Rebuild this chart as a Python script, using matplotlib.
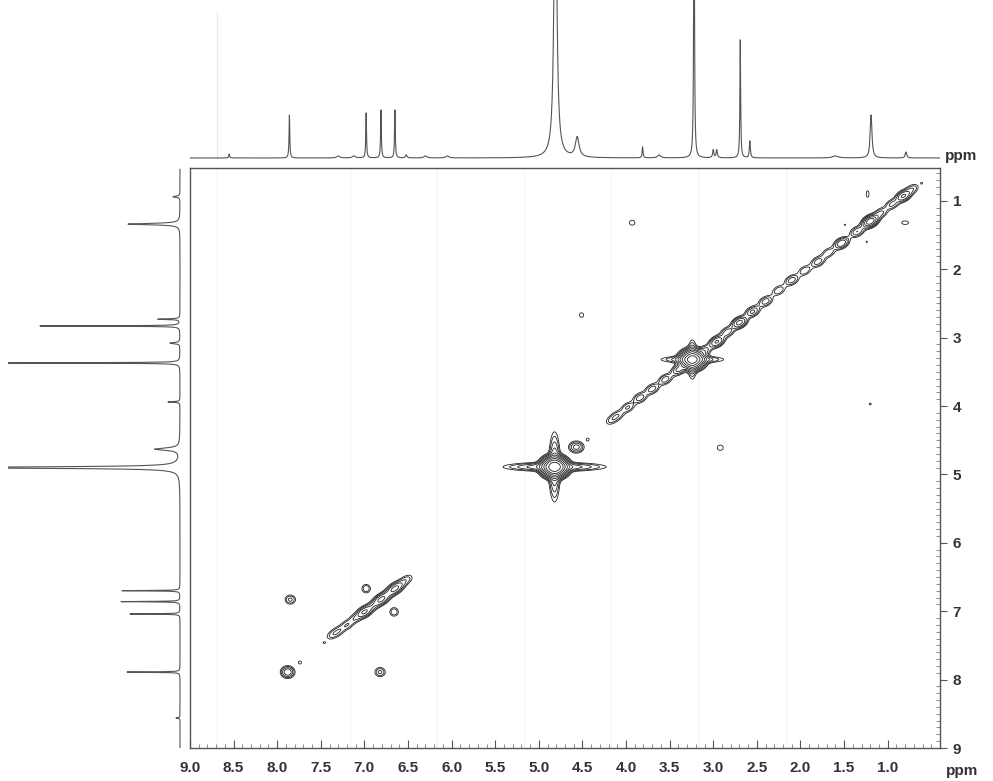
import numpy as np
import matplotlib
matplotlib.use("Agg")
import matplotlib.pyplot as plt
from matplotlib.ticker import MultipleLocator, FixedLocator

plt.rcParams['font.family'] = ['Liberation Sans', 'DejaVu Sans']

# ====== 1D projections (ppm, height in px, half width in ppm) ======
top_ppm = [8.55, 7.86, 7.30, 7.12, 6.98, 6.81, 6.65, 6.52, 6.30, 6.05,
           4.81, 4.56, 3.81, 3.62, 3.22, 3.00, 2.96, 2.69, 2.58, 1.60, 1.19, 0.79]
top_height = [4, 43, 2, 2, 45, 48, 48, 3, 2, 2,
              320, 20, 11, 3, 330, 8, 8, 118, 17, 2, 43, 6]
top_width = [0.006, 0.005, 0.02, 0.02, 0.005, 0.005, 0.005, 0.01, 0.02, 0.02,
             0.018, 0.025, 0.006, 0.02, 0.005, 0.008, 0.008, 0.005, 0.007, 0.04, 0.012, 0.01]

left_ppm = [0.94, 1.34, 2.73, 2.83, 3.08, 3.37, 3.94, 4.63, 4.90,
            6.70, 6.86, 7.04, 7.89, 8.56]
left_height = [7, 52, 22, 140, 10, 200, 12, 25, 260,
               58, 59, 50, 53, 4]
left_width = [0.01, 0.012, 0.006, 0.004, 0.01, 0.004, 0.006, 0.02, 0.012,
              0.004, 0.004, 0.004, 0.004, 0.006]

# ====== 2D COSY peaks: F2 (x), F1 (y), amplitude, width x, width y ======
diag_f2 = [0.72, 0.82, 0.95, 1.08, 1.20, 1.35, 1.53, 1.68, 1.80, 1.95, 2.10, 2.25,
           2.40, 2.55, 2.70, 2.84, 2.96, 3.10, 3.24, 3.40, 3.55, 3.70, 3.84, 3.98, 4.10, 4.17,
           6.51, 6.58, 6.65, 6.73, 6.81, 6.90, 7.00, 7.10, 7.20, 7.30, 7.37]
diag_f1 = [0.83, 0.93, 1.05, 1.18, 1.30, 1.45, 1.62, 1.76, 1.89, 2.02, 2.16, 2.31,
           2.47, 2.62, 2.78, 2.92, 3.06, 3.19, 3.32, 3.47, 3.61, 3.75, 3.88, 4.02, 4.14, 4.21,
           6.53, 6.60, 6.67, 6.75, 6.83, 6.92, 7.01, 7.10, 7.20, 7.29, 7.35]
diag_amp = [2.5, 7, 3, 3, 14, 4, 6, 2.5, 3.5, 2.5, 3.5, 2.5,
            3.5, 4.5, 8, 3.5, 7, 3, 3, 4.5, 3.5, 3.5, 3.5, 2.8, 2.4, 1.7,
            1.7, 2.2, 7, 3, 7, 3, 7, 2.4, 2.4, 2.2, 1.7]

spot_f2 = [4.82, 4.82, 4.82, 3.24, 3.24, 3.24, 4.57, 4.44, 7.88, 7.74, 7.46,
           7.85, 6.82, 6.98, 6.66, 4.51, 2.92, 3.93, 1.20, 1.23, 0.80, 0.61, 1.49, 1.24]
spot_f1 = [4.89, 4.89, 4.89, 3.32, 3.32, 3.32, 4.60, 4.49, 7.89, 7.75, 7.46,
           6.83, 7.89, 6.67, 7.01, 2.67, 4.61, 1.32, 3.97, 0.90, 1.32, 0.74, 1.35, 1.60]
spot_amp = [90, 7, 7, 45, 5, 5, 5, 1.25, 6, 1.3, 1.12,
            3, 3, 2.6, 2.6, 1.4, 1.6, 1.5, 1.12, 1.35, 1.45, 1.1, 1.08, 1.08]
spot_wx = [0.07, 0.30, 0.035, 0.07, 0.20, 0.03, 0.05, 0.025, 0.045, 0.025, 0.02,
           0.04, 0.04, 0.035, 0.035, 0.03, 0.035, 0.035, 0.025, 0.02, 0.045, 0.015, 0.02, 0.02]
spot_wy = [0.07, 0.035, 0.26, 0.07, 0.03, 0.16, 0.05, 0.03, 0.05, 0.03, 0.02,
           0.045, 0.045, 0.045, 0.045, 0.04, 0.04, 0.04, 0.03, 0.06, 0.03, 0.02, 0.025, 0.025]

x_tick_labels = ["9.0", "8.5", "8.0", "7.5", "7.0", "6.5", "6.0", "5.5", "5.0",
                 "4.5", "4.0", "3.5", "3.0", "2.5", "2.0", "1.5", "1.0"]
y_tick_labels = ["1", "2", "3", "4", "5", "6", "7", "8", "9"]

XMIN, XMAX = 0.4, 9.0
YMIN, YMAX = 0.52, 9.0
line_col = "#555555"


def lorentz_sum(axis, centers, heights, widths):
    s = np.zeros_like(axis)
    for c, h, w in zip(centers, heights, widths):
        s += h * w ** 2 / ((axis - c) ** 2 + w ** 2)
    return s


# ====== Figure layout ======
W, H = 993, 781
fig = plt.figure(figsize=(W / 100, H / 100), dpi=100)

ax = fig.add_axes([190 / W, 1 - 748 / H, 750 / W, 580 / H])
ax_top = fig.add_axes([190 / W, 1 - 168 / H, 750 / W, 168 / H], sharex=ax)
ax_left = fig.add_axes([8 / W, 1 - 748 / H, 174 / W, 580 / H], sharey=ax)

# ====== 2D contour ======
gx = np.linspace(XMIN, XMAX, 1100)
gy = np.linspace(YMIN, YMAX, 1100)
X, Y = np.meshgrid(gx, gy)
Z = np.zeros_like(X)
c45 = np.cos(np.pi / 4)
for x0, y0, a in zip(diag_f2, diag_f1, diag_amp):
    dx, dy = X - x0, Y - y0
    u = (dx + dy) * c45
    v = (dx - dy) * c45
    Z += a * np.exp(-0.5 * (u / 0.06) ** 2 - 0.5 * (v / 0.04) ** 2)
for x0, y0, a, sx, sy in zip(spot_f2, spot_f1, spot_amp, spot_wx, spot_wy):
    Z += a * np.exp(-0.5 * ((X - x0) / sx) ** 2 - 0.5 * ((Y - y0) / sy) ** 2)

levels = [1.0, 1.6, 2.6, 4.0, 6.5, 10, 16, 26, 40, 65]
ax.contour(X, Y, Z, levels=levels, colors="#222222", linewidths=0.6)

# faint scan grid
for g in [8.69, 7.17, 6.17, 5.17, 4.17, 3.17, 2.17]:
    ax.axvline(g, color="#f4f4f4", lw=0.8, zorder=0)
ax_top.axvline(8.69, color="#e8e8e8", lw=0.8, ymin=0.06, ymax=0.92)

ax.set_xlim(XMAX, XMIN)
ax.set_ylim(YMAX, YMIN)

ax.xaxis.set_major_locator(FixedLocator([float(t) for t in x_tick_labels]))
ax.set_xticklabels(x_tick_labels)
ax.xaxis.set_minor_locator(MultipleLocator(0.1))
ax.tick_params(axis="x", which="major", direction="in", length=6, pad=9,
               labelsize=11, labelcolor="#333333", color="#555555")
ax.tick_params(axis="x", which="minor", direction="in", length=3, color="#777777")

ax.yaxis.tick_right()
ax.yaxis.set_major_locator(FixedLocator([float(t) for t in y_tick_labels]))
ax.set_yticklabels(y_tick_labels)
ax.yaxis.set_minor_locator(MultipleLocator(0.1))
ax.tick_params(axis="y", which="major", direction="out", length=5, pad=4,
               labelsize=11, labelcolor="#333333", color="#555555")
ax.tick_params(axis="y", which="minor", direction="in", length=3, color="#777777")
for lbl in ax.get_xticklabels() + ax.get_yticklabels():
    lbl.set_fontweight("bold")
for sp in ax.spines.values():
    sp.set_color("#555555")
    sp.set_linewidth(1.0)

ax.text(1.008, -0.04, "ppm", transform=ax.transAxes, fontsize=11,
        fontweight="bold", color="#333333", ha="left", va="center")

# ====== top projection ======
tx = np.linspace(XMIN, XMAX, 30000)
ax_top.plot(tx, lorentz_sum(tx, top_ppm, top_height, top_width), color=line_col, lw=0.8)
ax_top.set_ylim(-10, 158)
ax_top.axis("off")
ax_top.text(1.006, 0.07, "ppm", transform=ax_top.transAxes, fontsize=11,
            fontweight="bold", color="#333333", ha="left", va="center")

# ====== left projection ======
ly = np.linspace(YMIN + 0.02, YMAX, 30000)
ax_left.plot(lorentz_sum(ly, left_ppm, left_height, left_width), ly, color=line_col, lw=0.8)
ax_left.set_xlim(172, -2)
ax_left.axis("off")
ax.set_ylim(YMAX, YMIN)

fig.savefig("out.png", dpi=100)
